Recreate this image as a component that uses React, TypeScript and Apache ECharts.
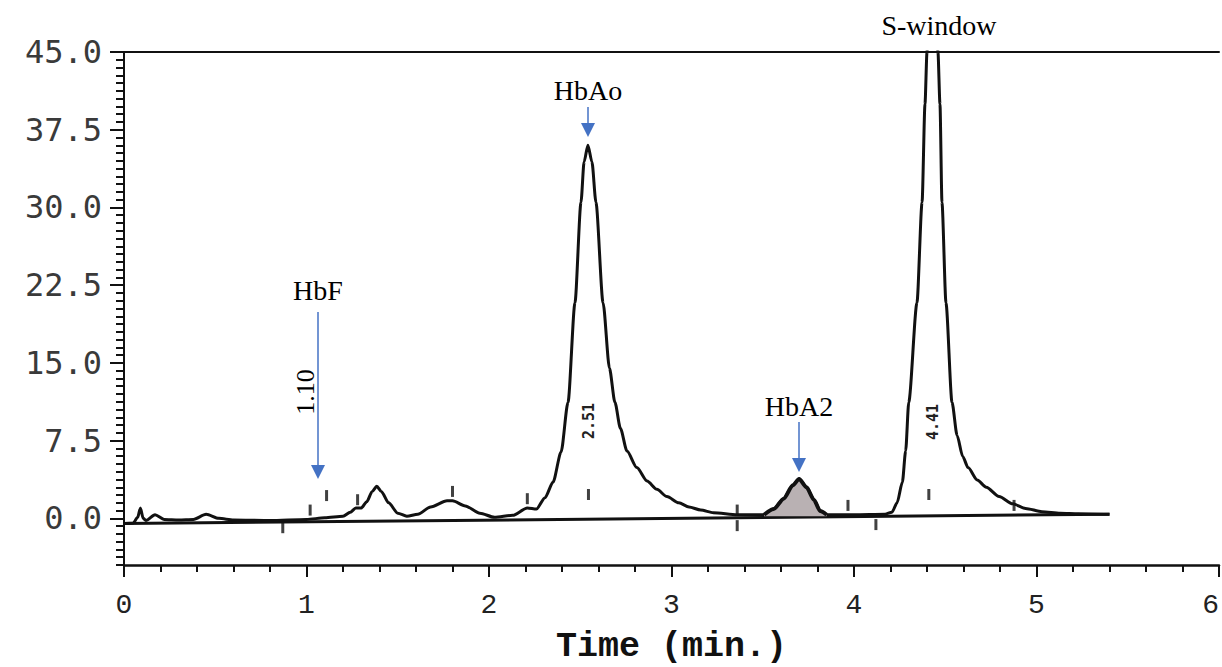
import React, { useEffect, useRef } from "react";
import * as echarts from "echarts";

// Chromatogram signal [time (min), absorbance]
const signal: [number, number][] = [
  [0, -0.5], [0.05, -0.45], [0.075, 0.1], [0.09, 1.0], [0.105, 0.0], [0.12, -0.2],
  [0.17, 0.35], [0.22, -0.1], [0.3, -0.15], [0.38, -0.1], [0.45, 0.4], [0.52, 0.0],
  [0.6, -0.15], [0.8, -0.2], [1.0, -0.1], [1.1, 0.05], [1.2, 0.2], [1.24, 0.6],
  [1.27, 1.0], [1.3, 1.0], [1.33, 1.6], [1.36, 2.6], [1.385, 3.1], [1.41, 2.6],
  [1.45, 1.5], [1.5, 0.5], [1.55, 0.2], [1.61, 0.4], [1.68, 1.1], [1.77, 1.7],
  [1.8, 1.7], [1.87, 1.2], [1.95, 0.5], [2.03, 0.1], [2.13, 0.3], [2.21, 1.0],
  [2.26, 0.9], [2.307, 2.0], [2.351, 3.5], [2.395, 6.4], [2.433, 11.2], [2.471, 20.8],
  [2.504, 30.5], [2.521, 34.4], [2.542, 36], [2.564, 34.4], [2.586, 30.5], [2.625, 20.8],
  [2.66, 14.5], [2.69, 11.2], [2.72, 8.7], [2.756, 6.5], [2.81, 4.9], [2.866, 3.6],
  [2.92, 2.8], [2.975, 2.1], [3.04, 1.5], [3.096, 1.1], [3.16, 0.8], [3.23, 0.55],
  [3.36, 0.35], [3.507, 0.35], [3.56, 0.9], [3.615, 1.9], [3.665, 3.2], [3.699, 3.8],
  [3.74, 3.0], [3.78, 1.8], [3.815, 0.7], [3.85, 0.35], [4.0, 0.35], [4.17, 0.4],
  [4.208, 0.6], [4.236, 1.5], [4.265, 3.5], [4.283, 6.5], [4.3, 11.2], [4.345, 20.8],
  [4.373, 30.5], [4.389, 40], [4.4, 45], [4.43, 72], [4.46, 45], [4.471, 40],
  [4.482, 30.5], [4.504, 20.8], [4.537, 11.2], [4.565, 8.0], [4.595, 6.0], [4.625, 4.9],
  [4.675, 3.7], [4.725, 3.0], [4.795, 2.1], [4.87, 1.4], [4.94, 0.95], [5.03, 0.65],
  [5.13, 0.5], [5.23, 0.45], [5.4, 0.4],
];

// HbA2 shaded peak
const hba2Peak: [number, number][] = [
  [3.507, 0.35], [3.56, 0.9], [3.615, 1.9], [3.665, 3.2], [3.699, 3.8],
  [3.74, 3.0], [3.78, 1.8], [3.815, 0.7], [3.85, 0.35],
];

// Integrator baseline
const baseline: [number, number][] = [[0, -0.5], [5.4, 0.4]];

// Integration event marks
const eventMarks: [number, number][] = [
  [0.87, -0.9], [1.02, 0.8], [1.11, 2.2], [1.28, 1.8], [1.8, 2.6], [2.21, 1.9],
  [2.545, 2.3], [3.36, 0.8], [3.36, -0.7], [3.967, 1.25], [4.12, -0.6], [4.41, 2.3], [4.877, 1.25],
];

const yMajorTicks = [0, 7.5, 15, 22.5, 30, 37.5, 45];

export default function App() {
  const ref = useRef<HTMLDivElement>(null);
  useEffect(() => {
    const chart = echarts.init(ref.current!, undefined, { renderer: "svg" });
    const blue = "#4472C4";
    const serif = "Liberation Serif";
    const arrow = (x: number, y1: number, y2: number) => [
      { type: "line", shape: { x1: x, y1, x2: x, y2: y2 - 12 }, style: { stroke: blue, lineWidth: 1.5 } },
      { type: "polygon", shape: { points: [[x - 7, y2 - 14], [x + 7, y2 - 14], [x, y2]] }, style: { fill: blue } },
    ];
    chart.setOption({
      animation: false,
      backgroundColor: "#fff",
      grid: { left: 124, right: 3, top: 52, bottom: 102, outerBoundsMode: "none", containLabel: false },
      xAxis: [
        {
          type: "value", min: 0, max: 6, interval: 1,
          name: "Time (min.)", nameLocation: "middle", nameGap: 64,
          nameTextStyle: { fontFamily: "Liberation Mono", fontWeight: "bold", fontSize: 35, color: "#111" },
          axisLine: { show: true, onZero: false, lineStyle: { color: "#111", width: 2.5 } },
          axisTick: { show: true, length: 12, lineStyle: { color: "#111", width: 2 } },
          minorTick: { show: true, splitNumber: 5, length: 7, lineStyle: { color: "#111", width: 2 } },
          axisLabel: { fontFamily: "Liberation Mono", fontSize: 28, color: "#222", margin: 26, alignMaxLabel: "right" },
          splitLine: { show: false },
        },
        {
          type: "value", position: "top", min: 0, max: 6,
          axisLine: { show: true, onZero: false, lineStyle: { color: "#111", width: 2 } },
          axisTick: { show: false }, axisLabel: { show: false }, splitLine: { show: false },
        },
      ],
      yAxis: [
        {
          type: "value", min: -4.5, max: 45, interval: 0.75,
          axisLine: { show: true, onZero: false, lineStyle: { color: "#111", width: 2 } },
          axisTick: { show: true, length: 8, lineStyle: { color: "#111", width: 2 } },
          axisLabel: {
            fontFamily: "DejaVu Sans Mono", fontSize: 32, color: "#3a3a3a", margin: 22,
            formatter: (v: number) => {
              const k = v / 7.5;
              return Math.abs(k - Math.round(k)) < 1e-6 && v >= 0 ? v.toFixed(1) : "";
            },
          },
          splitLine: { show: false },
        },
        {
          type: "value", min: -4.5, max: 45, position: "left",
          axisLine: { show: false },
          axisTick: { show: true, customValues: yMajorTicks, length: 14, lineStyle: { color: "#111", width: 2 } },
          axisLabel: { show: false },
          splitLine: { show: false },
        },
      ],
      series: [
        {
          type: "line", data: baseline, symbol: "none", clip: true,
          lineStyle: { color: "#111", width: 3 }, z: 2,
        },
        {
          type: "line", data: signal, symbol: "none", clip: true, smooth: 0.25, smoothMonotone: "x",
          lineStyle: { color: "#111", width: 3 }, z: 3,
        },
        {
          type: "line", data: hba2Peak, symbol: "none", clip: true, smooth: 0.25, smoothMonotone: "x",
          lineStyle: { color: "#111", width: 4 },
          areaStyle: { color: "#b9b1b3", origin: 0.2, opacity: 1 }, z: 4,
        },
        {
          type: "scatter", data: eventMarks, symbol: "rect", symbolSize: [3, 11],
          itemStyle: { color: "#111" }, z: 5,
        },
      ],
      graphic: [
        { type: "text", x: 939, y: 25, style: { text: "S-window", font: `28px "${serif}"`, fill: "#000", align: "center", verticalAlign: "middle" } },
        { type: "text", x: 588, y: 90, style: { text: "HbAo", font: `28px "${serif}"`, fill: "#000", align: "center", verticalAlign: "middle" } },
        ...arrow(588, 107, 137),
        { type: "text", x: 318, y: 290, style: { text: "HbF", font: `28px "${serif}"`, fill: "#000", align: "center", verticalAlign: "middle" } },
        ...arrow(318, 312, 479),
        { type: "text", x: 305, y: 392, rotation: Math.PI / 2, style: { text: "1.10", font: `26px "${serif}"`, fill: "#000", align: "center", verticalAlign: "middle" } },
        { type: "text", x: 799, y: 406, style: { text: "HbA2", font: `28px "${serif}"`, fill: "#000", align: "center", verticalAlign: "middle" } },
        ...arrow(799, 422, 472),
        { type: "text", x: 589, y: 421, rotation: Math.PI / 2, style: { text: "2.51", font: `bold 15px "DejaVu Sans Mono"`, fill: "#222", align: "center", verticalAlign: "middle" } },
        { type: "text", x: 933, y: 422, rotation: Math.PI / 2, style: { text: "4.41", font: `bold 15px "DejaVu Sans Mono"`, fill: "#222", align: "center", verticalAlign: "middle" } },
      ],
    });
    return () => chart.dispose();
  }, []);
  return <div ref={ref} style={{ position: "fixed", left: 0, top: 0, width: 1222, height: 667 }} />;
}
